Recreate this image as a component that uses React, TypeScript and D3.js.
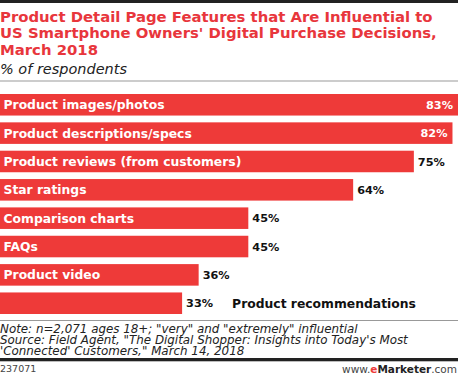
import * as d3 from "d3";
import { useEffect, useRef } from "react";

// Data
const categories = [
  "Product images/photos",
  "Product descriptions/specs",
  "Product reviews (from customers)",
  "Star ratings",
  "Comparison charts",
  "FAQs",
  "Product video",
  "Product recommendations",
];
const values = [83, 82, 75, 64, 45, 45, 36, 33];

const titleLines = [
  "Product Detail Page Features that Are Influential to",
  "US Smartphone Owners' Digital Purchase Decisions,",
  "March 2018",
];
const noteLines = [
  "Note: n=2,071 ages 18+; \"very\" and \"extremely\" influential",
  "Source: Field Agent, \"The Digital Shopper: Insights into Today's Most",
  "'Connected' Customers,\" March 14, 2018",
];

const W = 458;
const H = 392;
const RED = "#ee3a39";
const FONT = "'DejaVu Sans', sans-serif";

// scale a group's font size so that one text in it reaches the target width
const fitGroup = (sel: d3.Selection<any, any, any, any>, index: number, target: number, base: number) => {
  const node = sel.nodes()[index];
  const w = node.getComputedTextLength();
  const size = w > 0 ? (base * target) / w : base;
  sel.style("font-size", `${size}px`);
  return size;
};

const drawChart = (el: SVGSVGElement) => {
  const svg = d3.select(el);
  svg.selectAll("*").remove();

  // top rule
  svg.append("rect").attr("x", 0).attr("y", 0).attr("width", W).attr("height", 3).attr("fill", "#222");

  // title
  const title = svg.append("g")
    .selectAll("text")
    .data(titleLines)
    .join("text")
    .attr("x", 0)
    .attr("y", (d, i) => 21.8 + i * 16.6)
    .attr("fill", "#e8363c")
    .style("font-family", FONT)
    .style("font-weight", 700)
    .style("font-size", "15px")
    .text(d => d);
  fitGroup(title, 0, 433, 15);

  const sub = svg.append("text")
    .attr("x", 0)
    .attr("y", 73.5)
    .attr("fill", "#222")
    .style("font-family", FONT)
    .style("font-style", "italic")
    .style("font-size", "14px")
    .text("% of respondents");
  fitGroup(sub, 0, 127, 14);

  svg.append("rect").attr("x", 0).attr("y", 80.5).attr("width", W).attr("height", 1).attr("fill", "#999");

  // scales
  const x = d3.scaleLinear().domain([0, 83]).range([0, W]);
  const y = d3.scaleBand().domain(categories).range([94, 314]).paddingInner(0.24).paddingOuter(0);

  const rows = svg.append("g")
    .selectAll("g")
    .data(categories.map((c, i) => ({ c, v: values[i], i })))
    .join("g");

  rows.append("rect")
    .attr("x", 0)
    .attr("y", d => y(d.c)!)
    .attr("width", d => x(d.v))
    .attr("height", y.bandwidth())
    .attr("fill", RED);

  const last = categories.length - 1;

  // category labels
  const labels = rows.append("text")
    .attr("x", d => (d.i === last ? x(d.v) + 50 : 3.5))
    .attr("y", d => y(d.c)! + y.bandwidth() / 2)
    .attr("dy", "0.36em")
    .attr("fill", d => (d.i === last ? "#111" : "#fff"))
    .style("font-family", FONT)
    .style("font-weight", 700)
    .style("font-size", "13px")
    .text(d => d.c);
  fitGroup(labels, 2, 238, 13);

  // value labels
  const vals = rows.append("text")
    .attr("x", d => (d.v > 80 ? x(d.v) - 5 : x(d.v) + 4))
    .attr("y", d => y(d.c)! + y.bandwidth() / 2)
    .attr("dy", "0.36em")
    .attr("text-anchor", d => (d.v > 80 ? "end" : "start"))
    .attr("fill", d => (d.v > 80 ? "#fff" : "#111"))
    .style("font-family", FONT)
    .style("font-weight", 700)
    .style("font-size", "13px")
    .text(d => `${d.v}%`);
  fitGroup(vals, 2, 27, 13);

  // footer
  svg.append("rect").attr("x", 0).attr("y", 320).attr("width", W).attr("height", 1).attr("fill", "#999");

  // notes as one text block, one tspan per line
  const notes = svg.append("text")
    .attr("y", 332.6)
    .attr("fill", "#222")
    .style("font-family", FONT)
    .style("font-style", "italic")
    .style("font-size", "11px");
  const noteSpans = notes.selectAll("tspan")
    .data(noteLines)
    .join("tspan")
    .attr("x", 0)
    .attr("dy", (d, i) => (i === 0 ? 0 : 11))
    .text(d => d);
  const w2 = (noteSpans.nodes()[1] as SVGTSpanElement).getComputedTextLength();
  notes.style("font-size", `${(11 * 408) / w2}px`);

  svg.append("rect").attr("x", 0).attr("y", 358).attr("width", W).attr("height", 3.3).attr("fill", "#222");

  svg.append("text")
    .attr("x", 0)
    .attr("y", 372)
    .attr("fill", "#444")
    .style("font-family", FONT)
    .style("font-size", "9.5px")
    .text("237071");

  const brand = svg.append("text")
    .attr("x", W - 1)
    .attr("y", 372.5)
    .attr("text-anchor", "end")
    .attr("fill", "#444")
    .style("font-family", FONT)
    .style("font-size", "10.5px");
  brand.append("tspan").text("www.");
  brand.append("tspan").attr("fill", RED).style("font-weight", 700).text("e");
  brand.append("tspan").attr("fill", "#222").style("font-weight", 700).text("Marketer");
  brand.append("tspan").text(".com");
};

export default function App() {
  const ref = useRef<SVGSVGElement>(null);

  useEffect(() => {
    if (ref.current) drawChart(ref.current);
  }, []);

  return (
    <div style={{ position: "fixed", left: 0, top: 0, width: W, height: H, background: "#fff" }}>
      <svg ref={ref} width={W} height={H} style={{ display: "block" }}></svg>
    </div>
  );
}
